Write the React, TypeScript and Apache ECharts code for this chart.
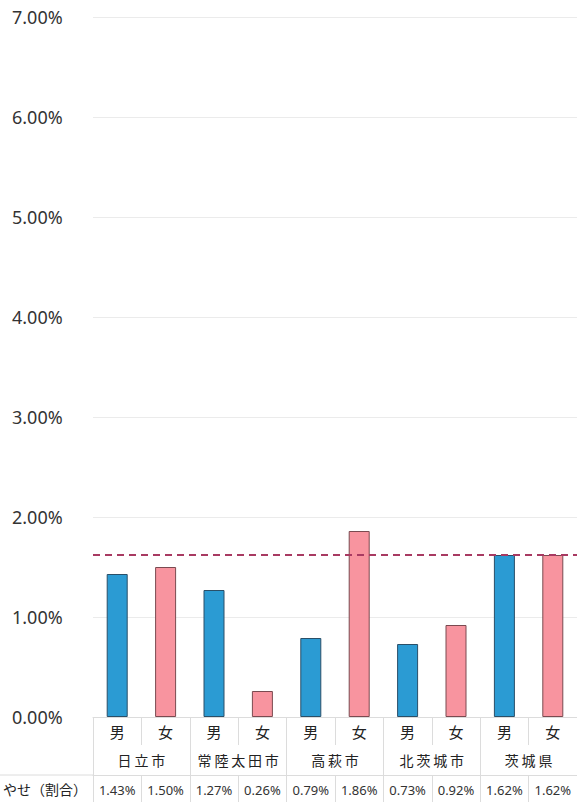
import React, { useEffect, useRef } from "react";
import * as echarts from "echarts";

const sexes = ["男", "女", "男", "女", "男", "女", "男", "女", "男", "女"];
const cities = ["日立市", "常陸太田市", "高萩市", "北茨城市", "茨城県"];
const values = [1.43, 1.5, 1.27, 0.26, 0.79, 1.86, 0.73, 0.92, 1.62, 1.62];
const referenceValue = 1.62;
const rowLabel = "やせ（割合）";

const FONT = "'Noto Sans', 'Noto Sans CJK JP', sans-serif";
const JP = "'Noto Sans CJK JP', 'Noto Sans', sans-serif";
const BLUE = "#2b9bd3";
const PINK = "#f8949f";
const LINE = "#dcdcdc";

export default function App() {
  const ref = useRef<HTMLDivElement>(null);
  useEffect(() => {
    document.body.style.margin = "0";
    const chart = echarts.init(ref.current!, null, { renderer: "svg" });
    const catIdx = values.map((_, i) => String(i));
    chart.setOption({
      animation: false,
      backgroundColor: "#ffffff",
      grid: { left: 93, right: 0, top: 17, bottom: 85 },
      yAxis: {
        type: "value",
        min: 0,
        max: 7,
        interval: 1,
        axisLine: { show: false },
        axisTick: { show: false },
        splitLine: { lineStyle: { color: "#ebebeb", width: 1 } },
        axisLabel: {
          formatter: (v: number) => v.toFixed(2) + "%",
          align: "left",
          margin: 81,
          color: "#333",
          fontSize: 18,
          fontFamily: FONT,
        },
      },
      xAxis: [
        {
          type: "category",
          data: catIdx,
          position: "bottom",
          axisLine: { show: true, lineStyle: { color: LINE } },
          axisTick: { show: true, length: 28, lineStyle: { color: LINE } },
          axisLabel: {
            interval: 0,
            formatter: (v: string) => sexes[Number(v)],
            margin: 7,
            color: "#222",
            fontSize: 15,
            fontFamily: JP,
          },
        },
        {
          type: "category",
          data: cities,
          position: "bottom",
          offset: 28,
          axisLine: { show: false },
          axisTick: { show: true, interval: 0, length: 30, lineStyle: { color: LINE } },
          axisLabel: {
            interval: 0,
            hideOverlap: false,
            margin: 8,
            color: "#222",
            fontSize: 14,
            fontFamily: JP,
            formatter: (v: string) => v.split("").join("\u2009"),
          },
        },
        {
          type: "category",
          data: catIdx,
          position: "bottom",
          offset: 58,
          axisLine: { show: true, lineStyle: { color: LINE } },
          axisTick: { show: true, interval: 0, length: 28, lineStyle: { color: LINE } },
          axisLabel: {
            interval: 0,
            formatter: (v: string) => values[Number(v)].toFixed(2) + "%",
            margin: 8,
            color: "#333",
            fontSize: 13,
            fontFamily: FONT,
          },
        },
      ],
      graphic: [
        {
          type: "line",
          shape: { x1: 0, y1: 775, x2: 93, y2: 775 },
          style: { stroke: LINE, lineWidth: 1 },
        },
        {
          type: "text",
          x: 3,
          y: 789,
          style: {
            text: rowLabel,
            fontSize: 14,
            fontFamily: JP,
            fill: "#222",
            verticalAlign: "middle",
          },
        },
      ],
      series: [
        {
          type: "bar",
          xAxisIndex: 0,
          barWidth: 21,
          data: values.map((v, i) => ({
            value: v,
            itemStyle: {
              color: sexes[i] === "男" ? BLUE : PINK,
              borderColor: sexes[i] === "男" ? "#2a4f68" : "#7a4a50",
              borderWidth: 1,
            },
          })),
          markLine: {
            symbol: "none",
            silent: true,
            label: { show: false },
            lineStyle: { color: "#a83a62", type: [7, 5], width: 2 },
            data: [{ yAxis: referenceValue }],
          },
        },
      ],
    });
    return () => chart.dispose();
  }, []);
  return <div ref={ref} style={{ width: 577, height: 802 }} />;
}
